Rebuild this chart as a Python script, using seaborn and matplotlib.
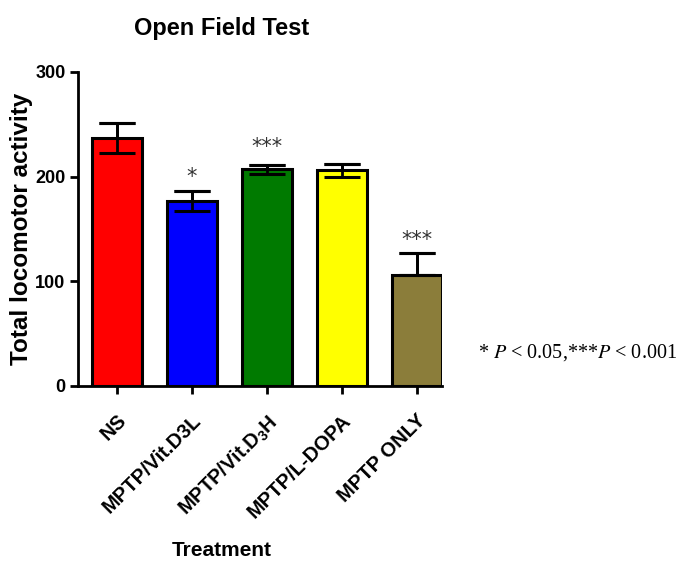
import matplotlib
matplotlib.use("Agg")
import matplotlib.pyplot as plt
import seaborn as sns
import numpy as np
import pandas as pd

categories = ["NS", "MPTP/Vit.D3L", "MPTP/Vit.D$_3$H", "MPTP/L-DOPA", "MPTP ONLY"]
means = [237, 177, 207, 206, 106]
sem_upper = [14.5, 9.5, 4, 6, 21]
sem_lower = [14.5, 9.5, 4, 6, 0]
colors = ["#ff0000", "#0000ff", "#007a00", "#ffff00", "#8b7d3a"]
stars = ["", "*", "***", "", "***"]
star_y = [0, 190, 219, 0, 130]
yticks = [0, 100, 200, 300]

sns.set_theme(style="ticks")
plt.rcParams["font.family"] = ["Liberation Sans", "DejaVu Sans"]
plt.rcParams["text.color"] = "black"
plt.rcParams["axes.labelcolor"] = "black"
plt.rcParams["xtick.color"] = "black"
plt.rcParams["ytick.color"] = "black"
plt.rcParams["mathtext.fontset"] = "custom"
plt.rcParams["mathtext.rm"] = "Liberation Sans:bold"
plt.rcParams["mathtext.it"] = "Liberation Sans:bold"
plt.rcParams["mathtext.bf"] = "Liberation Sans:bold"

fig = plt.figure(figsize=(6.79, 5.65), dpi=100)
ax = fig.add_axes([78/679, 1-386/565, (442-78)/679, (386-72)/565])

df = pd.DataFrame({"cat": categories, "val": means})
sns.barplot(data=df, x="cat", y="val", hue="cat", palette=colors, legend=False,
            saturation=1, width=0.667, edgecolor="black", linewidth=2.2, ax=ax, zorder=3)

x = np.arange(len(categories))
for z in (2, 4):
    ax.errorbar(x, means, yerr=[sem_lower, sem_upper], fmt="none", ecolor="black",
                elinewidth=2, capsize=13, capthick=2.2, zorder=z)

for xi, s, sy in zip(x, stars, star_y):
    if s:
        ax.text(xi, sy, s, ha="center", va="bottom", fontsize=15, color="#333333",
                family="DejaVu Sans")

ax.set_xlim(-0.52, 4.34)
ax.set_ylim(0, 300)
ax.set_yticks(yticks)
ax.set_yticklabels([str(t) for t in yticks], fontsize=13, fontweight="bold")
ax.set_xticks(x)
ax.set_xticklabels(categories, rotation=45, ha="right", rotation_mode="anchor",
                   fontsize=14.5, fontweight="bold")
ax.tick_params(axis="both", width=2, length=6, color="black", pad=3)
ax.tick_params(axis="x", pad=12)
for s in ["left", "bottom"]:
    ax.spines[s].set_linewidth(2)
    ax.spines[s].set_color("black")
sns.despine(ax=ax)

ax.set_xlabel("Treatment", fontsize=15, fontweight="bold")
ax.xaxis.set_label_coords((222-78)/(442-78), -(541-386)/(386-72))
ax.set_ylabel("Total locomotor activity", fontsize=17.5, fontweight="bold")
ax.yaxis.set_label_coords(-(78-33)/(442-78), 0.5)
fig.text(222/679, 1-28/565, "Open Field Test", ha="center", va="center",
         fontsize=17, fontweight="bold")

fig.text(478/679, 1-353/565, "* $P$ < 0.05,***$P$ < 0.001", ha="left", va="center",
         fontsize=14.5, family="Liberation Serif",
         math_fontfamily="stix")

fig.savefig("out.png", dpi=100)
